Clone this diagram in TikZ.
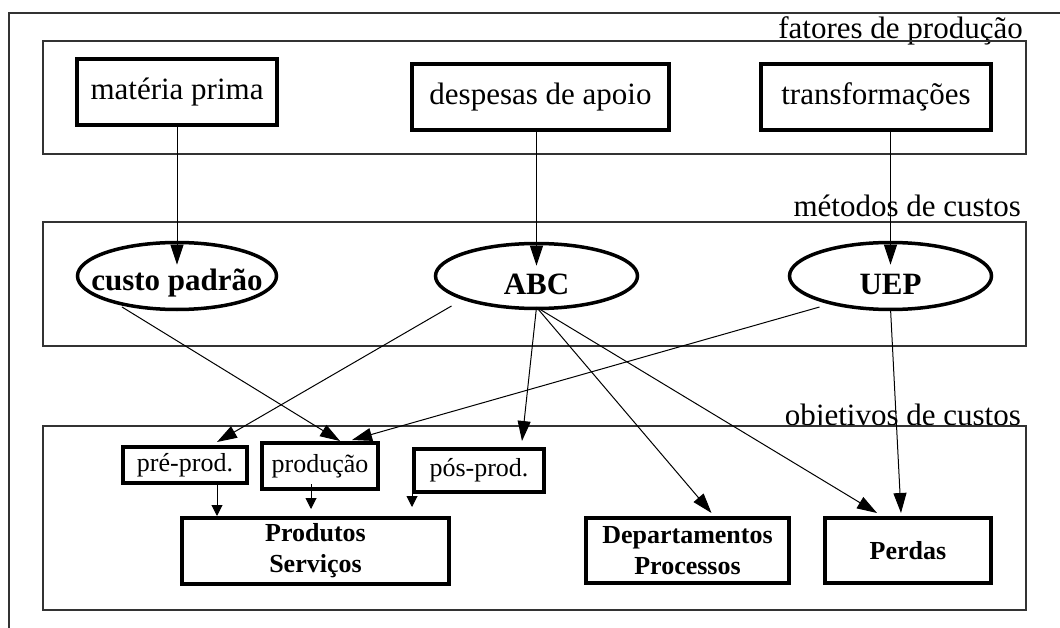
\documentclass[tikz,border=0pt]{standalone}
\usepackage{fontspec}
\setmainfont{Liberation Serif}
\usetikzlibrary{arrows.meta,shapes.geometric,calc}
\begin{document}
\begin{tikzpicture}[x=1pt,y=-1pt,
  band/.style={draw=black!80,line width=1.2pt},
  bandlabel/.style={anchor=base east,inner sep=0pt,font=\fontsize{31}{37}\selectfont},
  topbox/.style={draw,line width=4pt,inner sep=0pt,font=\fontsize{31}{37}\selectfont},
  method/.style={draw,ellipse,line width=3.5pt,inner sep=0pt},
  methodtext/.style={font=\fontsize{31}{37}\selectfont\bfseries,inner sep=0pt},
  smallbox/.style={draw,line width=4pt,inner sep=0pt,font=\fontsize{26}{31}\selectfont},
  goalbox/.style={draw,line width=4pt,inner sep=0pt,align=center,font=\fontsize{26}{31}\selectfont\bfseries},
  link/.style={line width=1pt,-{Triangle[length=20pt,width=13pt]}},
  shortlink/.style={line width=1pt,-{Triangle[length=11pt,width=11pt]}},
]
\useasboundingbox (0,0) rectangle (1060,628);
% outer frame
\draw[band] (9,628) -- (9,13) -- (1060,13);
% bands and labels
\node[bandlabel] (lab1) at (1023,39) {fatores de produção};
\draw[band] (43,41) rectangle (1026,154);
\node[bandlabel] (lab2) at (1021,217) {métodos de custos};
\draw[band] (43,222) rectangle (1026,346);
\node[bandlabel] (lab3) at (1021,425) {objetivos de custos};
\filldraw[band,fill=white] (43,426) rectangle (1026,610);
% production factors
\node[topbox,minimum width=200pt,minimum height=66pt] (mat) at (177,92) {matéria prima};
\node[topbox,minimum width=257pt,minimum height=66pt] (desp) at (540.5,97) {despesas de apoio};
\node[topbox,minimum width=230pt,minimum height=66pt] (trans) at (876,97) {transformações};
% methods
\node[method,minimum width=199pt,minimum height=67pt,label={[methodtext,yshift=-7pt]center:custo padrão}] (cp) at (177,276) {};
\node[method,minimum width=202pt,minimum height=65pt,label={[methodtext,yshift=-8pt]center:ABC}] (abc) at (536.5,276) {};
\node[method,minimum width=202pt,minimum height=67pt,label={[methodtext,yshift=-8pt]center:UEP}] (uep) at (890.5,276) {};
% objectives
\node[smallbox,minimum width=124pt,minimum height=36pt] (pre) at (185,465) {pré-prod.};
\node[smallbox,minimum width=116pt,minimum height=46pt] (prodc) at (320,466) {produção};
\node[smallbox,minimum width=130pt,minimum height=43pt] (pos) at (479,470.5) {pós-prod.};
\node[goalbox,minimum width=267pt,minimum height=66pt] (prods) at (315.5,551) {Produtos\\Serviços};
\node[goalbox,minimum width=203pt,minimum height=65pt] (dep) at (687.5,550.5) {Departamentos\\Processos};
\node[goalbox,minimum width=166pt,minimum height=65pt] (perd) at (908,550.5) {Perdas};
% connectors: factors to methods
\draw[link] (mat.south -| cp.center) -- ([yshift=-24pt]cp.north);
\draw[link] (desp.south -| abc.center) -- ([yshift=-24pt]abc.north);
\draw[link] (trans.south -| uep.center) -- ([yshift=-24pt]uep.north);
% methods to objectives
\draw[link] ($(cp.center)+(-55,31)$) -- ([xshift=20pt]prodc.north);
\draw[link] ($(abc.center)+(-85,30)$) -- ([xshift=32pt,yshift=3pt]pre.north);
\draw[link] ($(uep.center)+(-71,31)$) -- ([xshift=32pt,yshift=1pt]prodc.north);
\draw[link] ([yshift=3pt]abc.south) -- ([xshift=43pt,yshift=6pt]pos.north);
\draw[link] ([yshift=3pt]abc.south) -- ([xshift=24pt,yshift=3pt]dep.north);
\draw[link] ([yshift=3pt]abc.south) -- ([xshift=-31pt,yshift=3pt]perd.north);
\draw[link] ([yshift=3pt]uep.south) -- ([xshift=-7pt,yshift=3pt]perd.north);
% phases to products
\draw[shortlink] ([xshift=32pt]pre.south) -- ([xshift=32pt]pre.south |- prods.north);
\draw[shortlink] ([xshift=-9pt,yshift=7pt]prodc.south) -- ([xshift=-9pt,yshift=7pt]prodc.south |- prods.north);
\draw[shortlink] ([yshift=9pt]pos.south west) -- ([yshift=9pt]pos.south west |- prods.north);
\end{tikzpicture}
\end{document}
